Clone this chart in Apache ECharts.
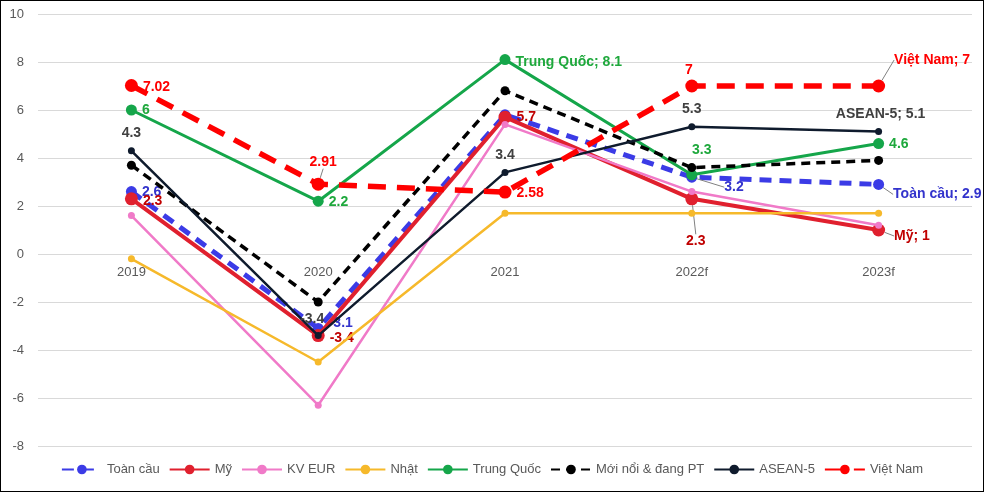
<!DOCTYPE html>
<html><head><meta charset="utf-8">
<script src="https://cdn.jsdelivr.net/npm/echarts@6/dist/echarts.min.js"></script>
<style>
html,body{margin:0;padding:0;background:#fff;}
#c{width:984px;height:492px;box-sizing:border-box;border:1px solid #000;}
</style></head>
<body><div id="c"></div>
<script>
const categories = ['2019','2020','2021','2022f','2023f'];
const yTicks = [-8,-6,-4,-2,0,2,4,6,8,10];
const toanCau   = [2.6, -3.1, 5.8, 3.2, 2.9];
const my        = [2.3, -3.4, 5.7, 2.3, 1];
const kvEur     = [1.6, -6.3, 5.4, 2.6, 1.2];
const nhat      = [-0.2, -4.5, 1.7, 1.7, 1.7];
const trungQuoc = [6, 2.2, 8.1, 3.3, 4.6];
const moiNoi    = [3.7, -2.0, 6.8, 3.6, 3.9];
const asean5    = [4.3, -3.4, 3.4, 5.3, 5.1];
const vietNam   = [7.02, 2.91, 2.58, 7, 7];
const names = ['Toàn cầu','Mỹ','KV EUR','Nhật','Trung Quốc','Mới nổi & đang PT','ASEAN-5','Việt Nam'];

const F = '"Liberation Sans", Arial, sans-serif';
// label specs per point: [position, dx, dy, withName, leader]
const specs = {
  'Toàn cầu': [['right',0,1],['right',0,-5],null,['right',22,10,false,true],['right',4,10,true,true]],
  'Mỹ': [['right',0,2],['right',0,3],['right',0,0],['bottom',4,24,false,true],['right',4,6,true,true]],
  'Trung Quốc': [['right',0,0],['right',0,1],['right',0,3,true],['top',10,-7],['right',0,1]],
  'ASEAN-5': [['top',0,-2],['top',-6,-1],['top',0,-2],['top',0,-2],['top',2,-2,true]],
  'Việt Nam': [['right',0,2],['top',5,-4,false,true],['right',0,1],['top',-3,3],['right',4,-26,true,true]]
};
const labelColors = {'Toàn cầu':'#3333CC','Mỹ':'#C00000','Trung Quốc':'#1EA83C','ASEAN-5':'#404040','Việt Nam':'#FF0000'};

function mk(name, vals, color, width, type, symSize, z){
  const sp = specs[name];
  const data = vals.map((v,i)=>{
    const s = sp ? sp[i] : null;
    if(!s) return {value:v, label:{show:false}};
    return {
      value:v,
      label:{show:true, position:s[0], color:labelColors[name], fontWeight:'bold', fontSize:14, fontFamily:F,
        formatter: s[3] ? (name+'; '+v) : String(v)},
      labelLine: s[4] ? {show:true, lineStyle:{color:'#808080', width:1}} : {show:false}
    };
  });
  return {
    name, type:'line', data, z,
    lineStyle:{color, width, type},
    itemStyle:{color},
    symbol:'circle', symbolSize:symSize,
    label:{show:false},
    labelLayout: sp ? function(p){ const s = sp[p.dataIndex]; return s ? {dx:s[1], dy:s[2]} : {}; } : undefined,
    emphasis:{disabled:true}, animation:false
  };
}

const chart = echarts.init(document.getElementById('c'));
chart.setOption({
  animation:false,
  grid:{left:37, right:11, top:13, bottom:45, containLabel:false},
  legend:{bottom:10, left:'center', itemWidth:40, itemHeight:12, itemGap:9,
    textStyle:{color:'#595959', fontSize:13, fontFamily:F},
    data:names},
  xAxis:{type:'category', data:categories, boundaryGap:true, position:'bottom', offset:-192,
    axisLine:{show:false}, axisTick:{show:false},
    axisLabel:{color:'#595959', fontSize:13, fontFamily:F, margin:12},
    splitLine:{show:false}},
  yAxis:{type:'value', min:yTicks[0], max:yTicks[yTicks.length-1], interval:2,
    axisLine:{show:false}, axisTick:{show:false},
    axisLabel:{color:'#595959', fontSize:13, fontFamily:F, margin:14},
    splitLine:{lineStyle:{color:'#D9D9D9', width:1}}},
  series:[
    mk('Toàn cầu', toanCau, '#3B3BE6', 5, [12,8], 11, 2),
    mk('Mỹ', my, '#E0202E', 4, 'solid', 13, 3),
    mk('KV EUR', kvEur, '#F07AC8', 2.5, 'solid', 7, 4),
    mk('Nhật', nhat, '#F6B92B', 2.5, 'solid', 7, 5),
    mk('Trung Quốc', trungQuoc, '#15A64A', 3, 'solid', 11, 6),
    mk('Mới nổi & đang PT', moiNoi, '#000000', 3.5, [9,6], 9, 7),
    mk('ASEAN-5', asean5, '#0F1B2D', 2.5, 'solid', 7, 8),
    mk('Việt Nam', vietNam, '#FF0000', 5.5, [18,11], 13, 9)
  ]
});
</script></body></html>
